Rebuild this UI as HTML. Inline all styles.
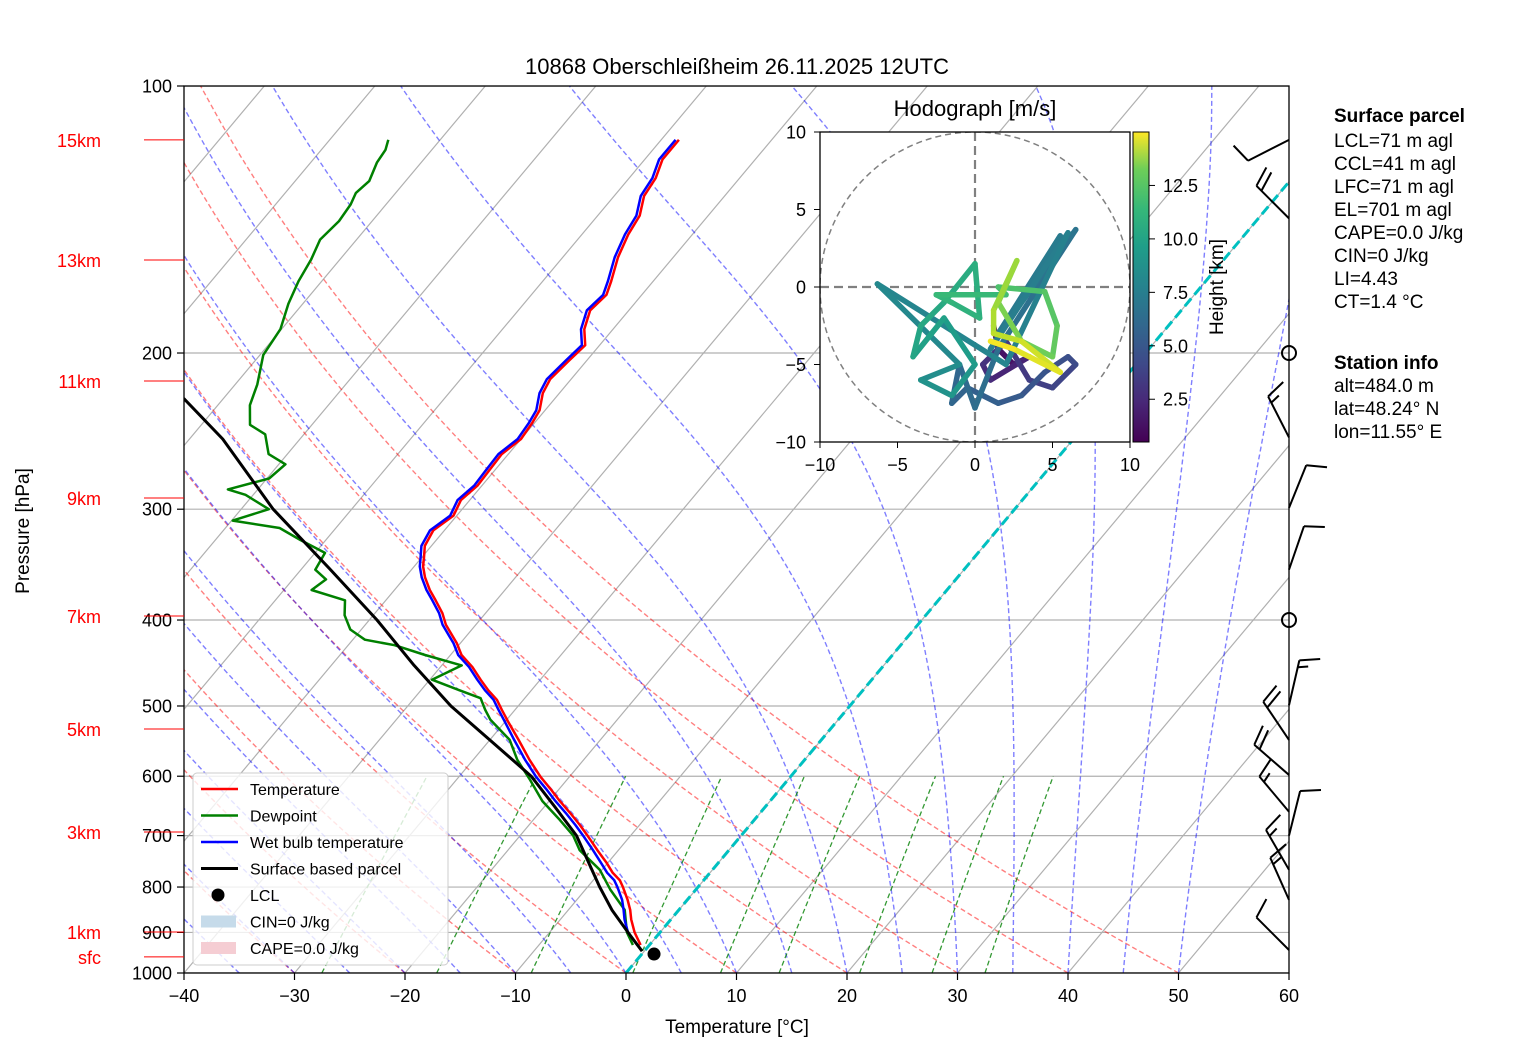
<!DOCTYPE html>
<html><head><meta charset="utf-8"><style>
body{margin:0;background:#fff}
svg{display:block;font-family:"Liberation Sans","DejaVu Sans",sans-serif}
</style></head><body>
<svg id="c" width="1517" height="1060" viewBox="0 0 1517 1060" xmlns="http://www.w3.org/2000/svg">
<defs>
<clipPath id="plotclip"><rect x="184" y="86" width="1105" height="887"/></clipPath>
<clipPath id="hodoclip"><rect x="820" y="132" width="310" height="310"/></clipPath>
<linearGradient id="vir" x1="0" y1="1" x2="0" y2="0">
<stop offset="0" stop-color="#440154"/><stop offset="0.13" stop-color="#482878"/><stop offset="0.25" stop-color="#3e4989"/><stop offset="0.38" stop-color="#31688e"/><stop offset="0.5" stop-color="#26828e"/><stop offset="0.63" stop-color="#1f9e89"/><stop offset="0.75" stop-color="#35b779"/><stop offset="0.88" stop-color="#6ece58"/><stop offset="1" stop-color="#fde725"/>
</linearGradient>
</defs>
<g id="bg" clip-path="url(#plotclip)"></g>
<g id="prof" clip-path="url(#plotclip)"></g>
<rect x="184" y="86" width="1105" height="887" fill="none" stroke="#000" stroke-width="1.3"/>
<g id="axes"></g>
<g id="barbs"></g>
<g id="hodo"></g>
<text x="737" y="74" text-anchor="middle" font-size="22">10868 Oberschleißheim 26.11.2025 12UTC</text>
<text x="737" y="1033" text-anchor="middle" font-size="19">Temperature [°C]</text>
<text transform="translate(29,531) rotate(-90)" text-anchor="middle" font-size="19">Pressure [hPa]</text>
<g font-size="19">
<text x="1334" y="122" font-weight="bold">Surface parcel</text>
<text x="1334" y="147">LCL=71 m agl</text>
<text x="1334" y="170">CCL=41 m agl</text>
<text x="1334" y="193">LFC=71 m agl</text>
<text x="1334" y="216">EL=701 m agl</text>
<text x="1334" y="239">CAPE=0.0 J/kg</text>
<text x="1334" y="262">CIN=0 J/kg</text>
<text x="1334" y="285">LI=4.43</text>
<text x="1334" y="308">CT=1.4 °C</text>
<text x="1334" y="369" font-weight="bold">Station info</text>
<text x="1334" y="392">alt=484.0 m</text>
<text x="1334" y="415">lat=48.24° N</text>
<text x="1334" y="438">lon=11.55° E</text>
</g>
<g id="legend"></g>
</svg>
<script>
const X_TICKS=[-40,-30,-20,-10,0,10,20,30,40,50,60];
const Y_TICKS=[100,200,300,400,500,600,700,800,900,1000];
const HEIGHT_LABELS=["15km","13km","11km","9km","7km","5km","3km","1km","sfc"];
const HEIGHT_P=[115.0,157.1,215.1,291.4,395.9,530.8,693.5,899,959];
const T_P=[930,900,870,849,827,800,786,771,750,727,700,681,660,638,620,601,575,546,520,505,492,480,467,452,438,425,405,393,380,370,358,348,340,330,317,305,293,282,271,260,250,240,232,222,214,204,196,188,179,172,166,156,147,140,133,127,121,115];
const TEMP=[-0.8,-2.3,-3.6,-4.4,-5.4,-6.8,-7.6,-8.8,-10.2,-11.9,-13.9,-15.4,-17.2,-19.2,-20.8,-22.6,-24.9,-27.4,-29.8,-31.2,-32.4,-33.9,-35.4,-37.1,-39.0,-40.3,-42.7,-43.9,-45.5,-46.8,-48.2,-49.2,-49.8,-50.6,-51.0,-50.3,-50.8,-50.4,-50.5,-50.6,-50.0,-50.2,-50.5,-51.5,-51.9,-51.6,-51.3,-52.6,-53.5,-53.2,-53.8,-55.0,-55.8,-56.2,-57.3,-57.6,-58.4,-58.4];
const WETBULB=[-1.1,-2.9,-4.2,-5.0,-5.9,-7.3,-8.1,-9.3,-10.7,-12.3,-14.3,-15.8,-17.6,-19.6,-21.2,-23.0,-25.3,-27.8,-30.1,-31.5,-32.7,-34.2,-35.7,-37.4,-39.3,-40.6,-43.0,-44.2,-45.8,-47.1,-48.5,-49.5,-50.1,-50.9,-51.3,-50.6,-51.1,-50.7,-50.8,-50.9,-50.3,-50.5,-50.8,-51.8,-52.2,-51.9,-51.6,-52.9,-53.8,-53.5,-54.1,-55.3,-56.1,-56.5,-57.6,-57.9,-58.7,-58.7];
const DEW_P=[930,900,849,806,765,727,700,672,640,606,575,546,518,505,490,480,467,450,438,427,421,410,395,380,370,360,351,336,325,315,309,300,289,285,277,267,260,247,241,229,217,201,188,176,166,157,149,142,136,132,128,122,118,115];
const DEWPOINT=[-1.5,-3.0,-4.9,-7.7,-10.2,-13.5,-15.2,-17.6,-20.6,-23.3,-26.0,-28.2,-31.5,-32.7,-34.0,-36.5,-39.8,-38.2,-42.3,-45.8,-48.9,-51.0,-52.6,-53.7,-57.5,-57.0,-58.7,-59.1,-62.3,-65.1,-69.9,-67.5,-70.7,-72.7,-69.8,-69.4,-71.7,-73.5,-75.6,-77.1,-78.0,-79.7,-80.1,-81.3,-82.1,-82.6,-83.3,-83.0,-83.2,-83.6,-83.3,-84.0,-84.2,-84.7];
const PARCEL_P=[945,900,850,800,750,700,650,600,550,500,450,400,350,300,250,225];
const PARCEL_T=[-0.2,-2.9,-6.0,-8.9,-11.8,-14.9,-19.0,-23.5,-29.5,-36.1,-42.5,-49.3,-57.5,-67.1,-77.0,-83.6];
const LCL_P=[952];
const LCL_T=[1.1];
const HODO_U=[1.2,1.5,2.5,3.5,1.0,0.5,2.0,3.5,5.0,6.5,6.0,4.5,3.0,1.5,-0.5,-1.5,-1.0,0.0,1.5,6.5,1.5,5.5,1.0,6.0,2.0,-6.3,-1.0,-3.5,-1.5,0.0,-2.0,-4.0,-3.5,-2.0,0.0,0.3,-1.5,-2.5,2.0,1.5,4.5,5.3,5.0,3.0,1.5,2.7,1.2,1.2,3.0,5.5,2.5,1.0];
const HODO_V=[-2.5,-4.0,-5.0,-4.5,-6.0,-5.0,-3.5,-6.0,-6.5,-5.0,-4.5,-5.5,-7.0,-7.5,-6.5,-7.5,-5.0,-7.8,-4.0,3.7,-3.0,3.3,-4.0,3.5,-5.0,0.2,-5.0,-6.0,-7.0,-5.0,-2.0,-4.5,-2.5,-1.0,1.5,-2.0,-1.0,-0.5,-0.5,0.0,-0.3,-2.5,-4.5,-3.5,-1.0,1.7,-1.5,-3.0,-3.5,-5.5,-4.0,-3.5];
const HODO_H=[0.6,1.0,1.4,1.8,2.2,2.5,2.8,3.1,3.4,3.7,4.0,4.2,4.5,4.8,5.0,5.2,5.4,5.6,5.8,6.0,6.2,6.4,6.6,6.8,7.0,7.2,7.4,7.7,8.0,8.3,8.6,8.9,9.1,9.3,9.5,9.7,9.9,10.1,10.4,10.7,11.0,11.3,11.6,11.9,12.2,12.6,13.0,13.4,13.8,14.2,14.6,15.0];
const HODO_TICKS=[-10,-5,0,5,10];
const CB_TICKS=[2.5,5.0,7.5,10.0,12.5];
const BARB_P=[115,141,200,249,299,351,400,499,546,598,658,700,765,827,942];
const BARB_DIR=[243,315,0,333,22,19,0,13,326,311,320,14,330,336,315];
const BARB_SPD=[10,20,0,15,10,10,0,15,20,20,15,10,15,15,10];

const NS='http://www.w3.org/2000/svg';
function el(tag,attrs,parent){const e=document.createElementNS(NS,tag);for(const k in attrs)e.setAttribute(k,attrs[k]);parent.appendChild(e);return e;}
function yP(p){return 973-887*Math.log10(1000/p);}
function xT(t,p){return 184+(t+40)*11.05+0.838*(973-yP(p));}
const bg=document.getElementById('bg'),prof=document.getElementById('prof'),axes=document.getElementById('axes');
function polyline(pts,attrs,parent){const e=el('polyline',Object.assign({points:pts.map(q=>q[0].toFixed(1)+','+q[1].toFixed(1)).join(' '),fill:'none'},attrs),parent);return e;}
for(let t=-160;t<=60;t+=10){const l=el('line',{x1:xT(t,1000),y1:973,x2:xT(t,100),y2:86,stroke:'#b0b0b0','stroke-width':1.2},bg);}
for(const p of Y_TICKS){const l=el('line',{x1:184,x2:1289,y1:yP(p),y2:yP(p),stroke:'#b0b0b0','stroke-width':1.2},bg);}
for(let t0=-40;t0<=50;t0+=10){const th=t0+273.15,pts=[];for(let p=1000;p>=100;p-=10)pts.push([xT(th*Math.pow(p/1000,0.2857)-273.15,p),yP(p)]);const l=polyline(pts,{stroke:'#ff0000','stroke-opacity':0.5,'stroke-width':1.4,'stroke-dasharray':'5,3'},bg);}
function es(tc){return 6.112*Math.exp(17.67*tc/(tc+243.5));}
function dTdp(T,p){const e=es(T-273.15),rs=0.622*e/(p-e),Lv=2.501e6,Rd=287.04;return (Rd*T+Lv*rs)/(p*(1005.7+Lv*Lv*rs*0.622/(Rd*T*T)));}
for(let t0=-40;t0<=50;t0+=5){let T=t0+273.15,pts=[[xT(t0,1000),yP(1000)]];for(let p=1000;p>100;p-=5){const h=-5;const k1=dTdp(T,p);const k2=dTdp(T+k1*h/2,p+h/2);T+=k2*h;pts.push([xT(T-273.15,p+h),yP(p+h)]);}const l=polyline(pts,{stroke:'#0000ff','stroke-opacity':0.5,'stroke-width':1.4,'stroke-dasharray':'5,3'},bg);}
for(const w of [0.0004,0.001,0.002,0.004,0.007,0.01,0.016,0.024,0.032]){const pts=[];for(let p=1000;p>=600;p-=20){const e=p*w/(0.622+w),g=Math.log(e/6.112);pts.push([xT(243.5*g/(17.67-g),p),yP(p)]);}const l=polyline(pts,{stroke:'#008000','stroke-opacity':0.8,'stroke-width':1.3,'stroke-dasharray':'5,3'},bg);}
{const l=el('line',{x1:xT(0,1000),y1:973,x2:xT(0,100),y2:86,stroke:'#00c0c0','stroke-width':3,'stroke-dasharray':'10,5'},bg);}
function prof_line(P,T,color,w,name){const l=polyline(P.map((p,i)=>[xT(T[i],p),yP(p)]),{stroke:color,'stroke-width':w,'stroke-linejoin':'round'},prof);}
prof_line(DEW_P,DEWPOINT,'#008000',2.5,'dewpoint-line');
prof_line(T_P,TEMP,'#ff0000',2.5,'temperature-line');
prof_line(T_P,WETBULB,'#0000ff',2.5,'wet-bulb-line');
prof_line(PARCEL_P,PARCEL_T,'#000',3,'parcel-line');
{const c=el('circle',{cx:xT(LCL_T[0],LCL_P[0]),cy:yP(LCL_P[0]),r:6.5,fill:'#000'},document.getElementById('c'));}
for(const t of X_TICKS){const x=184+(t+40)*11.05;el('line',{x1:x,x2:x,y1:973,y2:980,stroke:'#000','stroke-width':1.2},axes);const tx=el('text',{x:x,y:1002,'text-anchor':'middle','font-size':18},axes);tx.textContent=t<0?'\u2212'+(-t):t;}
for(const p of Y_TICKS){const y=yP(p);el('line',{x1:177,x2:184,y1:y,y2:y,stroke:'#000','stroke-width':1.2},axes);const tx=el('text',{x:172,y:y+6.5,'text-anchor':'end','font-size':18},axes);tx.textContent=p;}
HEIGHT_LABELS.forEach((s,i)=>{const y=yP(HEIGHT_P[i]);el('line',{x1:144,x2:184,y1:y,y2:y,stroke:'#ff0000','stroke-width':1},axes);const tx=el('text',{x:101,y:y+7,'text-anchor':'end','font-size':18,fill:'#ff0000'},axes);tx.textContent=s;});
const bG=document.getElementById('barbs');
BARB_P.forEach((p,i)=>{const bx=1289,by=yP(p),s=BARB_SPD[i];
 if(s===0){const c=el('ellipse',{cx:bx,cy:by,rx:7,ry:7,fill:'none',stroke:'#000','stroke-width':2},bG);return;}
 const d=BARB_DIR[i]*Math.PI/180,sx=Math.sin(d),sy=-Math.cos(d),px=-sy,py=sx,L=46;
 const g=el('g',{stroke:'#000','stroke-width':2,fill:'none'},bG);
 const ex=bx+sx*L,ey=by+sy*L;el('line',{x1:bx,y1:by,x2:ex,y2:ey},g);
 let rem=s,pos=0;while(rem>=10){const ax=ex-sx*pos,ay=ey-sy*pos;el('line',{x1:ax,y1:ay,x2:ax+px*20+sx*6,y2:ay+py*20+sy*6},g);rem-=10;pos+=7;}
 if(rem>=5){if(pos===0)pos=7;const ax=ex-sx*pos,ay=ey-sy*pos;el('line',{x1:ax,y1:ay,x2:ax+px*10+sx*3,y2:ay+py*10+sy*3},g);}
});
const H=document.getElementById('hodo');
function hx(u){return 975+u*15.5;}function hy(v){return 287-v*15.5;}
el('rect',{x:820,y:132,width:310,height:310,fill:'#fff'},H);
const hg=el('g',{'clip-path':'url(#hodoclip)'},H);
el('circle',{cx:975,cy:287,r:155,fill:'none',stroke:'#808080','stroke-width':1.5,'stroke-dasharray':'6,4'},hg);
el('line',{x1:820,x2:1130,y1:287,y2:287,stroke:'#808080','stroke-width':2.2,'stroke-dasharray':'9,5'},hg);
el('line',{x1:975,x2:975,y1:132,y2:442,stroke:'#808080','stroke-width':2.2,'stroke-dasharray':'9,5'},hg);
const VS=[[68,1,84],[72,40,120],[62,73,137],[49,104,142],[38,130,142],[31,158,137],[53,183,121],[110,206,88],[181,222,43],[253,231,37]];
function vir(h){let f=(h-0.5)/14.5;f=Math.max(0,Math.min(1,f))*(VS.length-1);const i=Math.min(VS.length-2,Math.floor(f)),t=f-i;return 'rgb('+VS[i].map((c,k)=>Math.round(c+(VS[i+1][k]-c)*t)).join(',')+')';}
for(let i=0;i<HODO_U.length-1;i++){const l=el('line',{x1:hx(HODO_U[i]),y1:hy(HODO_V[i]),x2:hx(HODO_U[i+1]),y2:hy(HODO_V[i+1]),stroke:vir((HODO_H[i]+HODO_H[i+1])/2),'stroke-width':5.5,'stroke-linecap':'round'},hg);}
el('rect',{x:820,y:132,width:310,height:310,fill:'none',stroke:'#000','stroke-width':1.3},H);
for(const t of HODO_TICKS){el('line',{x1:hx(t),x2:hx(t),y1:442,y2:448,stroke:'#000'},H);const a=el('text',{x:hx(t),y:471,'text-anchor':'middle','font-size':18},H);a.textContent=t<0?'\u2212'+(-t):t;
 el('line',{x1:814,x2:820,y1:hy(t),y2:hy(t),stroke:'#000'},H);const b=el('text',{x:806,y:hy(t)+6.5,'text-anchor':'end','font-size':18},H);b.textContent=t<0?'\u2212'+(-t):t;}
{const t=el('text',{x:975,y:116,'text-anchor':'middle','font-size':22},H);t.textContent='Hodograph [m/s]';}
{const r=el('rect',{x:1133,y:132,width:16,height:310,fill:'url(#vir)',stroke:'#000','stroke-width':1},H);}
function cby(h){return 442-(h-0.5)/14.5*310;}
for(const t of CB_TICKS){el('line',{x1:1149,x2:1155,y1:cby(t),y2:cby(t),stroke:'#000'},H);const a=el('text',{x:1163,y:cby(t)+6.5,'font-size':18},H);a.textContent=t.toFixed(1);}
{const t=el('text',{transform:'translate(1223,287) rotate(-90)','text-anchor':'middle','font-size':19},H);t.textContent='Height [km]';}
const LG=document.getElementById('legend');
el('rect',{x:193,y:773,width:255,height:192,rx:4,fill:'#fff','fill-opacity':0.8,stroke:'#ccc','stroke-width':1},LG);
const LEG=[['Temperature','line','#ff0000'],['Dewpoint','line','#008000'],['Wet bulb temperature','line','#0000ff'],['Surface based parcel','line','#000'],['LCL','dot','#000'],['CIN=0 J/kg','patch','#c6dbea'],['CAPE=0.0 J/kg','patch','#f5cdd3']];
LEG.forEach((e,i)=>{const y=789+i*26.5;const g=el('g',{},LG);
 if(e[1]==='line')el('line',{x1:201,x2:238,y1:y,y2:y,stroke:e[2],'stroke-width':e[2]==='#000'?3:2.5},g);
 else if(e[1]==='dot')el('circle',{cx:218,cy:y,r:6.5,fill:'#000'},g);
 else el('rect',{x:201,y:y-6,width:35,height:12,fill:e[2]},g);
 const t=el('text',{x:250,y:y+6,'font-size':16},g);t.textContent=e[0];});
</script>
</body></html>
